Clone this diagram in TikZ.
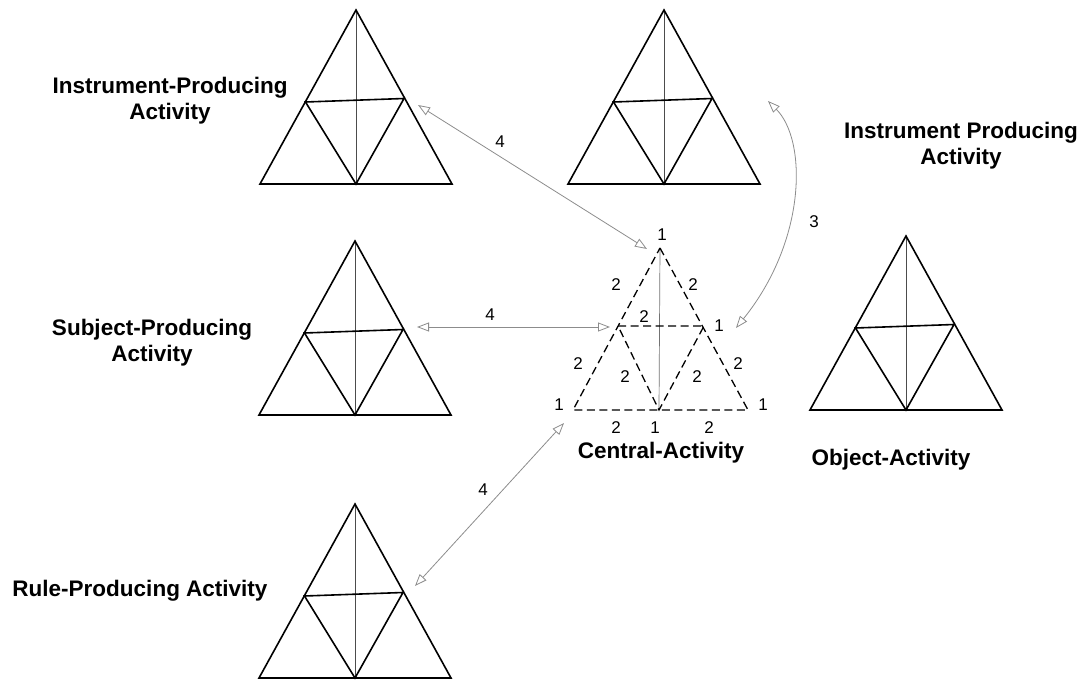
\documentclass[tikz,border=0pt]{standalone}
\usepackage{fontspec}
\setmainfont{Liberation Sans}
\usetikzlibrary{arrows.meta}
\begin{document}
\begin{tikzpicture}[x=1pt,y=-1pt,
  heavy/.style={line width=1.6pt, line join=miter},
  axisline/.style={line width=0.7pt, black!70},
  link/.style={line width=0.8pt, black!45,
    {Triangle[open,length=12pt,width=9pt]}-{Triangle[open,length=12pt,width=9pt]}},
  title/.style={font=\fontsize{22.5}{26}\selectfont\bfseries, align=center},
  num/.style={font=\fontsize{17}{20}\selectfont, inner sep=0pt},
  dashedge/.style={line width=1.3pt, dash pattern=on 8pt off 4.5pt},
  activity/.pic={
    \coordinate (-apex) at (0,0);
    \coordinate (-left) at (-96,174);
    \coordinate (-right) at (96,174);
    \coordinate (-foot) at (0,174);
    \coordinate (-ml) at (-50.5,92);
    \coordinate (-mr) at (48,88.5);
    \draw[axisline] (-apex) -- (-foot);
    \draw[heavy] (-apex) -- (-right) -- (-left) -- cycle;
    \draw[heavy] (-ml) -- (-mr) -- (-foot) -- cycle;
  }
]
\useasboundingbox (0,0) rectangle (1088,682);

% the five producing activities
\pic (ip)  at (356,10)  {activity};
\pic (top) at (664,10)  {activity};
\pic (sp)  at (355,241) {activity};
\pic (rp)  at (355,504) {activity};
\pic (obj) at (906,236) {activity};

% central activity, dashed
\coordinate (c-apex)  at (660,248);
\coordinate (c-left)  at (573,410);
\coordinate (c-right) at (748,410);
\coordinate (c-foot)  at (659,410);
\coordinate (c-ml)    at (618,326);
\coordinate (c-mr)    at (704,326);
\draw[axisline, black!55] (c-apex) -- (c-foot);
\draw[dashedge] (c-apex) -- (c-right) -- (c-left) -- cycle;
\draw[dashedge] (c-ml) -- (c-mr) -- (c-foot) -- cycle;

% vertex and edge numbers
\node[num] (n1a) at (662,235) {1};
\node[num] (n1b) at (719,326) {1};
\node[num] (n1c) at (559,405) {1};
\node[num] (n1d) at (763,405) {1};
\node[num] (n1e) at (655,428) {1};
\node[num] (n2a) at (616,285) {2};
\node[num] (n2b) at (693,285) {2};
\node[num] (n2c) at (644,317) {2};
\node[num] (n2d) at (578,364) {2};
\node[num] (n2e) at (738,364) {2};
\node[num] (n2f) at (625,377) {2};
\node[num] (n2g) at (697,377) {2};
\node[num] (n2h) at (616,428) {2};
\node[num] (n2i) at (709,428) {2};

% links between activities
\coordinate (a-ip)  at (418,105);
\coordinate (a-c1)  at (647,249);
\coordinate (a-sp)  at (417,327);
\coordinate (a-c2)  at (610,327);
\coordinate (a-rp)  at (415,586);
\coordinate (a-c3)  at (564,423);
\coordinate (a-top) at (768,101);
\coordinate (a-c4)  at (736,328);
\draw[link] (a-ip) -- (a-c1);
\draw[link] (a-sp) -- (a-c2);
\draw[link] (a-rp) -- (a-c3);
\draw[link] (a-top) .. controls (807,140) and (807,240) .. (a-c4);
\node[num] (l4a) at (500,142) {4};
\node[num] (l4b) at (490,315) {4};
\node[num] (l4c) at (483,490) {4};
\node[num] (l3)  at (814,222) {3};

% activity names
\node[title] (t-ip)  at (170,101) {Instrument-Producing\\Activity};
\node[title] (t-top) at (961,146) {Instrument Producing\\Activity};
\node[title] (t-sp)  at (152,343) {Subject-Producing\\Activity};
\node[title] (t-c)   at (661,453) {Central-Activity};
\node[title] (t-obj) at (891,460) {Object-Activity};
\node[title] (t-rp)  at (140,591) {Rule-Producing Activity};
\end{tikzpicture}
\end{document}
